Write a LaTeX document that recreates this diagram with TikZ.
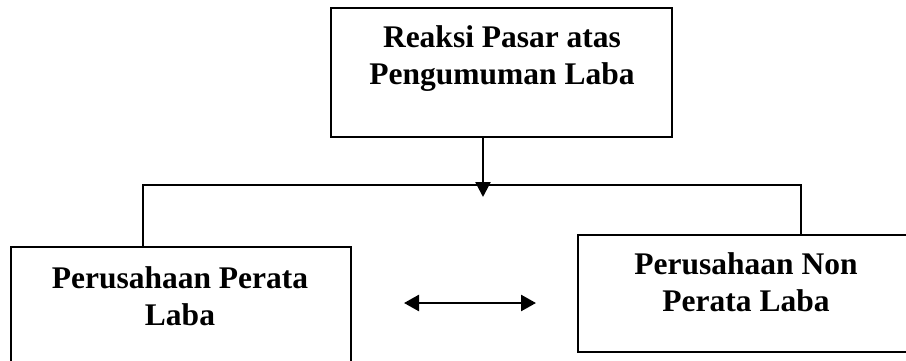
\documentclass[tikz,border=0pt]{standalone}
\usepackage{fontspec}
\setmainfont{Liberation Serif}
\usetikzlibrary{arrows.meta}

\begin{document}
\begin{tikzpicture}[x=1pt, y=-1pt,
  frame/.style={draw, line width=2pt, rectangle, inner sep=0pt, anchor=north west},
  lbl/.style={font=\bfseries\fontsize{31.5}{36.5}\selectfont, align=center, inner sep=0pt, anchor=base},
  link/.style={line width=1.8pt},
  arr/.style={line width=2.6pt, -{Triangle[length=15pt, width=15pt]}},
  dblarr/.style={line width=2.6pt, {Triangle[length=15pt, width=16pt]}-{Triangle[length=15pt, width=16pt]}}
]
  \useasboundingbox (0,0) rectangle (906,360);

  % boxes
  \node[frame, minimum width=341pt, minimum height=129pt] (reaction) at (330,7) {};
  \node[frame, minimum width=340pt, minimum height=130pt] (smooth) at (10,246) {};
  \node[frame, minimum width=340pt, minimum height=117pt] (nonsmooth) at (577,234) {};

  % labels (anchored at the baseline of the last line)
  \node[lbl] (reactiontext) at (502,84) {Reaksi Pasar atas\\Pengumuman Laba};
  \node[lbl] (smoothtext) at (180,325) {Perusahaan Perata\\Laba};
  \node[lbl] (nonsmoothtext) at (746,311) {Perusahaan Non\\Perata Laba};

  % connectors
  \coordinate (tip) at (483,197);
  \coordinate (lbus) at (143,185);
  \coordinate (rbus) at (801,185);
  \draw[link] (lbus |- smooth.north) -- (lbus) -- (rbus) -- (rbus |- nonsmooth.north);
  \draw[arr] (reaction.south -| tip) -- (tip);
  \draw[dblarr, shorten <=52pt, shorten >=41pt] (smooth.east |- 0,303) -- (nonsmooth.west |- 0,303);
\end{tikzpicture}
\end{document}
